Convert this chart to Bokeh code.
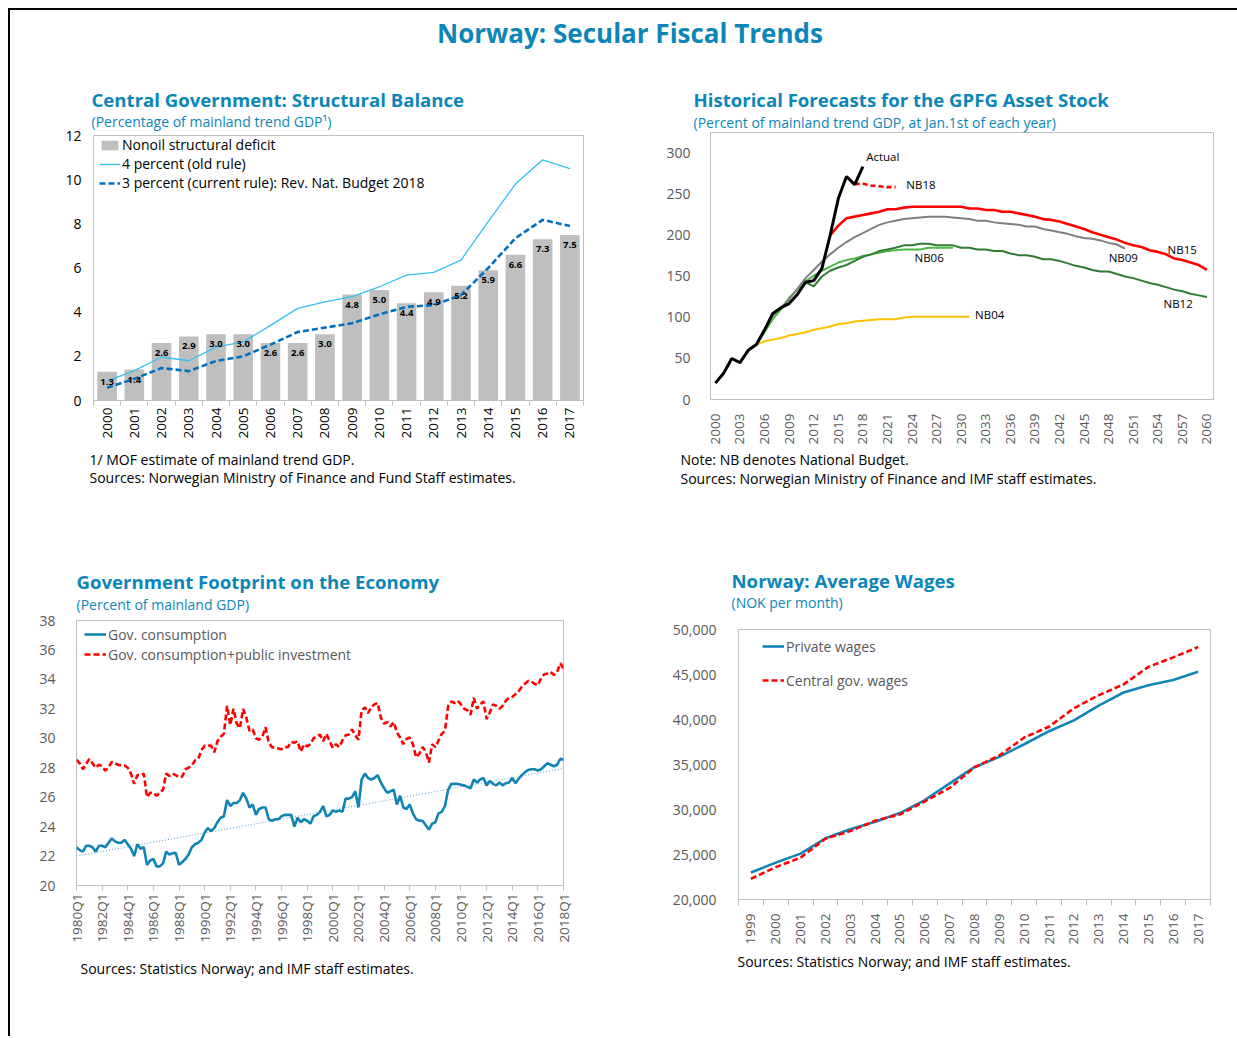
import math
from bokeh.plotting import figure
from bokeh.models import (Title, Legend, LegendItem, FixedTicker, NumeralTickFormatter,
                          Label, Div, Range1d, Spacer)
from bokeh.layouts import column, row
from bokeh.embed import file_html
from bokeh.resources import INLINE
from bokeh.core.properties import value

FONT = "Open Sans"
TEAL = "#0C86B8"
GRAY_TXT = "#595959"
FRAME = "#BFBFBF"

# ---------------- DATA ----------------
# Panel 1: structural balance (percent of mainland trend GDP)
sb_years = [2000, 2001, 2002, 2003, 2004, 2005, 2006, 2007, 2008,
            2009, 2010, 2011, 2012, 2013, 2014, 2015, 2016, 2017]
sb_deficit = [1.3, 1.4, 2.6, 2.9, 3.0, 3.0, 2.6, 2.6, 3.0,
              4.8, 5.0, 4.4, 4.9, 5.2, 5.9, 6.6, 7.3, 7.5]
sb_old_rule = [0.88, 1.35, 1.97, 1.80, 2.42, 2.65, 3.40, 4.17, 4.47,
               4.70, 5.15, 5.68, 5.80, 6.36, 8.10, 9.80, 10.90, 10.50]
sb_new_rule = [0.58, 0.98, 1.47, 1.33, 1.79, 2.00, 2.53, 3.10, 3.30,
               3.50, 3.90, 4.24, 4.32, 4.77, 6.00, 7.35, 8.18, 7.90]

# Panel 2: GPFG forecasts (percent of mainland trend GDP)
actual_years = list(range(2000, 2019))
actual = [20, 32, 50, 45, 60, 67, 85, 105, 112, 117, 128, 143, 145, 160, 200, 245, 272, 262, 284]
nb18_years = list(range(2017, 2023))
nb18 = [263, 263, 261, 260, 259, 259]
nb15_years = list(range(2014, 2061))
nb15 = [200, 212, 221, 223, 225, 227, 229, 232, 232, 234,
        235, 235, 235, 235, 235, 235, 235,
        233, 233, 231, 231, 229, 229, 227, 225, 223, 220,
        219, 217, 214, 211, 208, 204, 201, 198, 195, 191,
        188, 186, 182, 180, 177, 172, 170, 167, 164, 158]
nb09_years = list(range(2005, 2051))
nb09 = [67, 85, 102, 112, 122, 135, 148, 158, 168, 177,
        185, 192, 198, 203, 208, 213, 216, 218, 220, 221,
        222, 223, 223, 223, 222, 221, 220, 218, 218, 216,
        215, 214, 213, 211, 211, 208, 206, 204, 202, 199,
        197, 196, 194, 191, 189, 184]
nb06_years = list(range(2005, 2030))
nb06 = [67, 82, 98, 110, 124, 134, 144, 151, 157, 162,
        167, 170, 172, 175, 177, 179, 181, 182, 183, 183,
        183, 185, 185, 185, 185]
nb12_years = list(range(2010, 2061))
nb12 = [128, 143, 138, 150, 157, 161, 164, 169, 174, 177,
        181, 183, 185, 188, 188, 190, 190, 188, 188, 188,
        185, 185, 183, 183, 181, 181, 178, 176, 176, 174,
        171, 171, 169, 166, 163, 161, 158, 156, 156, 153,
        150, 148, 145, 142, 140, 137, 134, 132, 129, 127, 125]
nb04_years = list(range(2005, 2032))
nb04 = [67, 71, 73, 75, 78, 80, 82, 85, 87, 89,
        92, 93, 95, 96, 97, 98, 98, 98, 100, 101,
        101, 101, 101, 101, 101, 101, 101]
gpfg_ticks = list(range(2000, 2061, 3))

# Panel 3: government footprint, quarterly 1980Q1-2018Q1 (percent of mainland GDP)
gov_cons = [
    22.6, 22.4, 22.3, 22.7,  22.7, 22.6, 22.3, 22.7,  22.7, 22.6, 22.9, 23.2,   # 1980-82
    23.0, 22.9, 22.9, 23.1,  22.8, 22.5, 22.0, 22.8,  22.5, 22.6, 21.4, 21.7,   # 1983-85
    21.8, 21.3, 21.3, 21.5,  22.3, 22.1, 22.2, 22.2,  21.4, 21.6, 21.8, 22.1,   # 1986-88
    22.6, 22.8, 22.9, 23.1,  23.6, 23.9, 23.7, 23.9,  24.3, 24.6, 24.7, 25.8,   # 1989-91
    25.4, 25.6, 25.6, 25.8,  26.3, 25.9, 25.3, 25.5,  24.8, 25.2, 25.3, 25.3,   # 1992-94
    24.5, 24.4, 24.5, 24.5,  24.7, 24.8, 24.8, 24.8,  24.0, 24.6, 24.3, 24.5,   # 1995-97
    24.4, 24.2, 24.7, 24.8,  25.0, 25.4, 24.7, 24.8,  25.1, 25.0, 25.1, 25.0,   # 1998-2000
    25.9, 25.9, 26.0, 26.4,  25.3, 27.2, 27.6, 27.3,  27.2, 27.3, 27.5, 27.0,   # 2001-03
    26.6, 26.3, 26.4, 26.5,  25.5, 26.1, 25.3, 25.2,  25.5, 24.9, 24.5, 24.4,   # 2004-06
    24.4, 24.1, 23.8, 24.2,  24.3, 24.9, 25.0, 25.4,  26.5, 26.9, 26.9, 26.9,   # 2007-09
    26.85, 26.8, 26.7, 26.6, 27.2, 27.0, 27.2, 27.3,  26.8, 27.1, 26.9, 26.8,   # 2010-12
    27.0, 26.8, 26.95, 27.0, 27.3, 26.95, 27.25, 27.5, 27.7, 27.85, 27.9, 27.9, # 2013-15
    27.8, 27.9, 28.1, 28.3,  28.2, 28.1, 28.2, 28.6,  28.55,                    # 2016-18Q1
]
gov_cons_inv = [
    28.55, 28.3, 27.9, 28.25, 28.6, 28.3, 28.0, 28.2,  28.1, 27.8, 28.0, 28.4,  # 1980-82
    28.3, 28.2, 28.15, 28.15, 28.0, 27.6, 26.9, 27.5,  27.5, 27.6, 26.0, 26.3,  # 1983-85
    26.3, 26.1, 26.3, 26.5,  27.6, 27.45, 27.6, 27.5,  27.35, 27.4, 27.9, 28.0, # 1986-88
    28.15, 28.5, 28.6, 29.2, 29.5, 29.5, 29.5, 29.05,  29.8, 30.1, 30.3, 32.2,  # 1989-91
    30.9, 32.0, 31.0, 30.7,  32.0, 31.4, 30.5, 30.6,  30.0, 29.9, 30.1, 30.75,  # 1992-94
    29.7, 29.4, 29.35, 29.3, 29.25, 29.4, 29.4, 29.75, 29.7, 29.8, 29.1, 29.6,  # 1995-97
    29.45, 29.6, 30.0, 30.1, 30.25, 29.8, 30.3, 29.8,  29.35, 29.6, 29.4, 29.85, # 1998-2000
    30.2, 30.25, 30.6, 30.2, 29.9, 31.9, 32.1, 31.7,  32.1, 32.3, 32.4, 31.4,   # 2001-03
    31.0, 31.1, 30.8, 31.1,  30.4, 30.05, 29.6, 29.95, 30.05, 29.6, 28.7, 28.95, # 2004-06
    29.4, 29.1, 28.35, 29.6, 29.4, 29.85, 30.3, 30.5,  32.2, 32.5, 32.4, 32.55, # 2007-09
    32.3, 32.0, 31.9, 31.6,  32.75, 32.0, 32.3, 32.5,  31.3, 31.75, 32.3, 32.2, # 2010-12
    32.0, 32.2, 32.55, 32.75, 32.8, 33.0, 33.2, 33.5,  33.7, 33.9, 33.85, 33.7, # 2013-15
    33.6, 34.1, 34.35, 34.4, 34.5, 34.3, 34.5, 35.1,  34.75,                    # 2016-18Q1
]
trend_ends = [22.0, 27.95]          # linear trend of gov. consumption, 1980Q1 and 2018Q1
quarter_x = [1980 + i / 4 for i in range(len(gov_cons))]
quarter_ticks = list(range(1980, 2019, 2))

# Panel 4: average wages (NOK per month)
wage_years = list(range(1999, 2018))
private_wages = [23000, 24100, 25100, 26800, 27800, 28650, 29600, 31050, 32900, 34700,
                 35850, 37250, 38700, 39900, 41550, 43000, 43800, 44400, 45300]
central_wages = [22300, 23600, 24650, 26750, 27600, 28750, 29450, 30900, 32400, 34700,
                 36000, 38000, 39200, 41250, 42700, 43900, 45850, 46900, 48050]


# ---------------- HELPERS ----------------
def make_fig(width, height, x_range, y_range, borders, title, title_offset, title_standoff,
             subtitle, sub_offset, sub_standoff, notes, note_offset, note_standoffs, gap=None):
    left, right, top, bottom = borders
    p = figure(width=width, height=height, x_range=x_range, y_range=y_range,
               output_backend="svg", toolbar_location=None,
               min_border_left=left, min_border_right=right,
               min_border_top=top, min_border_bottom=bottom, title=title)
    p.frame_align = False
    p.title.text_font = FONT
    p.title.text_font_size = "18.6px"
    p.title.text_font_style = "bold"
    p.title.text_color = TEAL
    p.title.align = "left"
    p.title.offset = title_offset
    p.title.standoff = title_standoff
    if gap is not None:
        p.add_layout(Title(text=" ", standoff=gap, text_font=FONT, text_font_size="14px"), "above")
    p.add_layout(Title(text=subtitle, align="left", offset=sub_offset, standoff=sub_standoff,
                       text_font=FONT, text_font_size="14px", text_font_style="normal",
                       text_color=TEAL), "above")
    for n, s in zip(notes, note_standoffs):
        p.add_layout(Title(text=n, align="left", offset=note_offset, standoff=s,
                           text_font=FONT, text_font_size="14px", text_font_style="normal",
                           text_color="black"), "below")
    p.outline_line_color = FRAME
    p.outline_line_width = 1
    p.xgrid.visible = False
    p.ygrid.visible = False
    p.background_fill_color = "white"
    p.border_fill_color = "white"
    for ax in p.axis:
        ax.axis_line_color = None
        ax.major_tick_line_color = None
        ax.minor_tick_line_color = None
        ax.major_label_text_font = FONT
        ax.major_label_text_color = GRAY_TXT
    p.yaxis.major_label_text_font_size = "14px"
    p.xaxis.major_label_text_font_size = "13.5px"
    p.xaxis.major_label_orientation = math.pi / 2
    return p


def style_legend(leg, color="black"):
    leg.background_fill_alpha = 0
    leg.border_line_color = None
    leg.label_text_font = FONT
    leg.label_text_font_size = "14px"
    leg.label_text_color = color
    leg.glyph_width = 22
    leg.label_standoff = 2
    leg.margin = 0


# ---------------- PANEL 1 ----------------
p1 = make_fig(600, 460, Range1d(1999.5, 2017.5), Range1d(0, 12), (83, 27, 75, 120),
              "Central Government: Structural Balance", -2, -15,
              "(Percentage of mainland trend GDP\u00b9)", -2, 9.5,
              ["1/ MOF estimate of mainland trend GDP.",
               "Sources: Norwegian Ministry of Finance and Fund Staff estimates."], -4, [13, -20.5])
bars = p1.vbar(x=sb_years, top=sb_deficit, width=0.72, fill_color="#BFBFBF", line_color=None)
old_line = p1.line(sb_years, sb_old_rule, line_color="#33C1F0", line_width=1.3)
new_line = p1.line(sb_years, sb_new_rule, line_color="#0070C0", line_width=2.6, line_dash="6 3")
p1.text(x=sb_years, y=sb_deficit, text=[f"{v:.1f}" for v in sb_deficit],
        text_align="center", text_baseline="middle", y_offset=10,
        text_font=value(FONT), text_font_size="9.5px", text_font_style="bold", text_color="black")
p1.xaxis.ticker = FixedTicker(ticks=sb_years, minor_ticks=[y - 0.5 for y in sb_years] + [sb_years[-1] + 0.5])
p1.xaxis.minor_tick_line_color = FRAME
p1.xaxis.minor_tick_out = 5
p1.xaxis.minor_tick_in = 0
p1.xaxis.major_tick_out = 0
p1.xaxis.major_label_standoff = 2
p1.yaxis.ticker = FixedTicker(ticks=list(range(0, 13, 2)))
p1.yaxis.major_tick_out = 0
p1.yaxis.major_label_standoff = 12
for ax in p1.axis:
    ax.major_label_text_color = "black"
leg1 = Legend(items=[LegendItem(label="Nonoil structural deficit", renderers=[bars]),
                     LegendItem(label="4 percent (old rule)", renderers=[old_line]),
                     LegendItem(label="3 percent (current rule): Rev. Nat. Budget 2018", renderers=[new_line])],
              location=(6, 208))
style_legend(leg1)
leg1.glyph_width = 21
leg1.glyph_height = 12
leg1.label_height = 19
leg1.spacing = 0
leg1.padding = 0
p1.add_layout(leg1)

# ---------------- PANEL 2 ----------------
p2 = make_fig(627, 460, Range1d(1999.4, 2060.8), Range1d(0, 325.6), (100, 24, 72, 121),
              "Historical Forecasts for the GPFG Asset Stock", -17, -4,
              "(Percent of mainland trend GDP, at Jan.1st of each year)", -17, 1.5,
              ["Note: NB denotes National Budget.",
               "Sources: Norwegian Ministry of Finance and IMF staff estimates."], -30, [0, -4.5])
p2.line(nb04_years, nb04, line_color="#FFC000", line_width=2)
p2.line(nb06_years, nb06, line_color="#4CB848", line_width=2)
p2.line(nb12_years, nb12, line_color="#2E7D32", line_width=2)
p2.line(nb09_years, nb09, line_color="#7F7F7F", line_width=2)
p2.line(nb15_years, nb15, line_color="#FF0000", line_width=2.6)
p2.line(nb18_years, nb18, line_color="#FF0000", line_width=2.6, line_dash="5 3")
p2.line(actual_years, actual, line_color="black", line_width=3)
p2.xaxis.ticker = FixedTicker(ticks=gpfg_ticks)
p2.xaxis.major_label_standoff = 8
p2.yaxis.ticker = FixedTicker(ticks=list(range(0, 301, 50)))
p2.yaxis.major_label_standoff = 14
for txt, lx, ly in [("Actual", 2018.4, 296), ("NB18", 2023.3, 262), ("NB06", 2024.3, 173),
                    ("NB09", 2048.0, 173), ("NB15", 2055.2, 183), ("NB12", 2054.7, 117),
                    ("NB04", 2031.7, 104)]:
    p2.add_layout(Label(x=lx, y=ly, text=txt, text_font=FONT, text_font_size="11.5px",
                        text_color="black", text_baseline="middle", text_align="left"))

# ---------------- PANEL 3 ----------------
p3 = make_fig(600, 480, Range1d(1980, 2018), Range1d(20, 38), (66, 47, 100, 115),
              "Government Footprint on the Economy", 0, -15,
              "(Percent of mainland GDP)", 0, 12.5,
              ["Sources: Statistics Norway; and IMF staff estimates."], 4, [22])
p3.line([quarter_x[0], quarter_x[-1]], trend_ends, line_color="#5B9BD5", line_width=1, line_dash="1 2")
l_cons = p3.line(quarter_x, gov_cons, line_color="#0F84B5", line_width=2.6)
l_inv = p3.line(quarter_x, gov_cons_inv, line_color="#FF0000", line_width=2.6, line_dash="6 3")
p3.xaxis.ticker = FixedTicker(ticks=quarter_ticks)
p3.xaxis.major_label_overrides = {y: f"{y}Q1" for y in quarter_ticks}
p3.xaxis.major_tick_line_color = FRAME
p3.xaxis.major_tick_out = 5
p3.xaxis.major_tick_in = 0
p3.xaxis.major_label_standoff = 3
p3.yaxis.ticker = FixedTicker(ticks=list(range(20, 39, 2)))
p3.yaxis.major_label_standoff = 15
leg3 = Legend(items=[LegendItem(label="Gov. consumption", renderers=[l_cons]),
                     LegendItem(label="Gov. consumption+public investment", renderers=[l_inv])],
              location=(8, 221))
style_legend(leg3, color=GRAY_TXT)
leg3.label_height = 20
leg3.glyph_height = 20
leg3.spacing = 0
leg3.padding = 3
p3.add_layout(leg3)

# ---------------- PANEL 4 ----------------
p4 = make_fig(627, 480, Range1d(1998.5, 2017.5), Range1d(20000, 50000), (128, 27, 109, 101),
              "Norway: Average Wages", -7, -6,
              "(NOK per month)", -7, 1.5,
              ["Sources: Statistics Norway; and IMF staff estimates."], -1, [4], gap=-4.5)
l_priv = p4.line(wage_years, private_wages, line_color="#1285B8", line_width=2.6)
l_cent = p4.line(wage_years, central_wages, line_color="#FF0000", line_width=2.6, line_dash="6 3")
p4.xaxis.ticker = FixedTicker(ticks=wage_years,
                              minor_ticks=[y - 0.5 for y in wage_years] + [wage_years[-1] + 0.5])
p4.xaxis.minor_tick_line_color = FRAME
p4.xaxis.minor_tick_out = 6
p4.xaxis.minor_tick_in = 0
p4.xaxis.major_tick_out = 0
p4.xaxis.major_label_standoff = 8
p4.yaxis.ticker = FixedTicker(ticks=list(range(20000, 50001, 5000)))
p4.yaxis.formatter = NumeralTickFormatter(format="0,0")
p4.yaxis.major_label_standoff = 16
leg4 = Legend(items=[LegendItem(label="Private wages", renderers=[l_priv]),
                     LegendItem(label="Central gov. wages", renderers=[l_cent])],
              location=(24, 209))
style_legend(leg4, color=GRAY_TXT)
leg4.label_height = 20
leg4.glyph_height = 20
leg4.spacing = 14
leg4.padding = 3
p4.add_layout(leg4)

# ---------------- PAGE ----------------
title_div = Div(text=('<div style="box-sizing:border-box;width:1227px;padding-left:13px;'
                      'font-family:\'Open Sans\';font-weight:bold;font-size:26px;'
                      'color:#0C86B8;text-align:center;line-height:46px;">'
                      'Norway: Secular Fiscal Trends</div>'),
                width=1227, height=50, margin=0)

page = column(title_div, row(p1, p2), row(p3, p4), Spacer(width=1227, height=36),
              margin=(8, 0, 0, 8),
              styles={"border-top": "2px solid black", "border-left": "2px solid black"})

open("out.html", "w").write(file_html(page, INLINE, title="Norway: Secular Fiscal Trends"))
